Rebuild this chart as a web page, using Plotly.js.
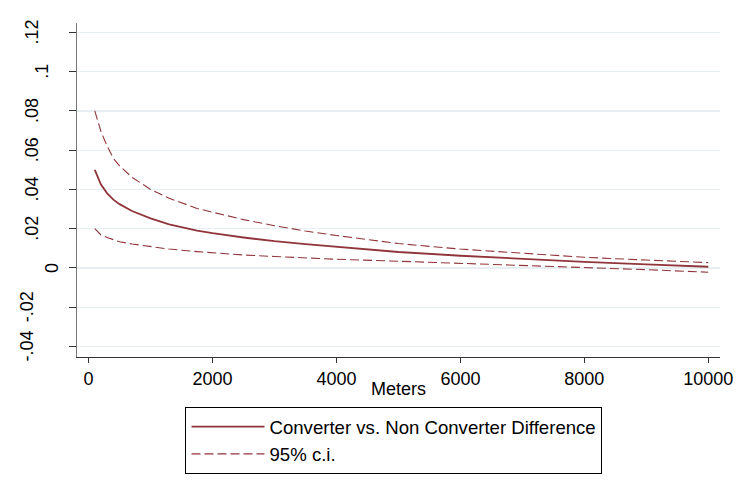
<!DOCTYPE html>
<html>
<head>
<meta charset="utf-8">
<script src="https://cdn.plot.ly/plotly-3.0.1.min.js"></script>
<style>html,body{margin:0;padding:0;background:#fff;}#chart{width:737px;height:488px;}</style>
</head>
<body>
<div id="chart"></div>
<script>
// Distance in meters
const meters = [100, 200, 300, 400, 500, 700, 1000, 1300, 1750, 2000, 2500, 3000, 3500, 4000, 5000, 6000, 7000, 8000, 9000, 10000];
// Converter vs. Non Converter Difference
const diff = [0.050, 0.0425, 0.038, 0.0348, 0.0325, 0.029, 0.0252, 0.0222, 0.0190, 0.0177, 0.0155, 0.0136, 0.0121, 0.0107, 0.0081, 0.0062, 0.0045, 0.0031, 0.0018, 0.0006];
// 95% c.i. upper and lower bounds
const ciUpper = [0.080, 0.0695, 0.062, 0.0558, 0.052, 0.0462, 0.0400, 0.0355, 0.0303, 0.0283, 0.0246, 0.0215, 0.0188, 0.0165, 0.0124, 0.0096, 0.0074, 0.0054, 0.0040, 0.0027];
const ciLower = [0.0200, 0.0168, 0.0155, 0.0142, 0.0133, 0.0122, 0.0108, 0.0096, 0.0083, 0.0077, 0.0066, 0.0058, 0.0050, 0.0044, 0.0034, 0.0023, 0.0013, 0.0004, -0.0009, -0.0022];

const yTickVals = [-0.04, -0.02, 0, 0.02, 0.04, 0.06, 0.08, 0.10, 0.12];
const yTickText = ["-.04", "-.02", "0", ".02", ".04", ".06", ".08", ".1", ".12"];
const xTickVals = [0, 2000, 4000, 6000, 8000, 10000];
const xTickText = ["0", "2000", "4000", "6000", "8000", "10000"];
const xTitle = "Meters";

const maroon = "rgb(144,53,59)";
const fnt = {family: "Liberation Sans, Arial, sans-serif", size: 18, color: "#000"};
const legFnt = {family: "Liberation Sans, Arial, sans-serif", size: 18.6, color: "#000"};

const traces = [
  {x: meters, y: diff, type: "scatter", mode: "lines", name: "Converter vs. Non Converter Difference",
   line: {color: maroon, width: 1.8}},
  {x: meters, y: ciUpper, type: "scatter", mode: "lines", name: "95% c.i.",
   line: {color: maroon, width: 1.1, dash: "9px,4px"}},
  {x: meters, y: ciLower, type: "scatter", mode: "lines", name: "95% c.i.", showlegend: false,
   line: {color: maroon, width: 1.1, dash: "9px,4px"}}
];

// Rotated y tick labels, placed like the original (shorter labels sit closer to the axis)
const labelCenterPx = {"0": 52, ".1": 42, "-.02": 27, "-.04": 27};
const annotations = yTickVals.map((v, i) => {
  const t = yTickText[i];
  const cx = (t in labelCenterPx) ? labelCenterPx[t] : 32;
  return {
    xref: "paper", yref: "y", x: 0, y: v, text: t, showarrow: false,
    textangle: -90, xanchor: "center", yanchor: "middle",
    xshift: cx - 77, font: fnt
  };
});
// x axis title
annotations.push({
  xref: "paper", yref: "paper", x: 0.5, y: 0, text: xTitle, showarrow: false,
  xanchor: "center", yanchor: "middle", yshift: -32, font: fnt
});

const layout = {
  width: 737, height: 488,
  margin: {l: 77, r: 17, t: 23, b: 131},
  paper_bgcolor: "#fff", plot_bgcolor: "#fff",
  font: fnt,
  showlegend: true,
  annotations: annotations,
  legend: {
    x: 0.493, xanchor: "center", y: -0.15, yanchor: "top",
    bordercolor: "#000", borderwidth: 1, bgcolor: "#fff",
    font: legFnt, tracegroupgap: 0, itemwidth: 73
  },
  xaxis: {
    range: [-187, 10189], tickmode: "array", tickvals: xTickVals, ticktext: xTickText,
    showgrid: false, zeroline: false, showline: true, linecolor: "#333", linewidth: 1.2,
    ticks: "outside", ticklen: 5, tickcolor: "#333", tickfont: fnt
  },
  yaxis: {
    range: [-0.0454, 0.1248], tickmode: "array", tickvals: yTickVals, ticktext: yTickText,
    showticklabels: false,
    showgrid: true, gridcolor: "#e8eff2", gridwidth: 1.2, zeroline: false,
    showline: true, linecolor: "#777", linewidth: 1.5,
    ticks: "outside", ticklen: 7, tickcolor: "#333"
  }
};

Plotly.newPlot("chart", traces, layout, {displayModeBar: false, staticPlot: true});
</script>
</body>
</html>
